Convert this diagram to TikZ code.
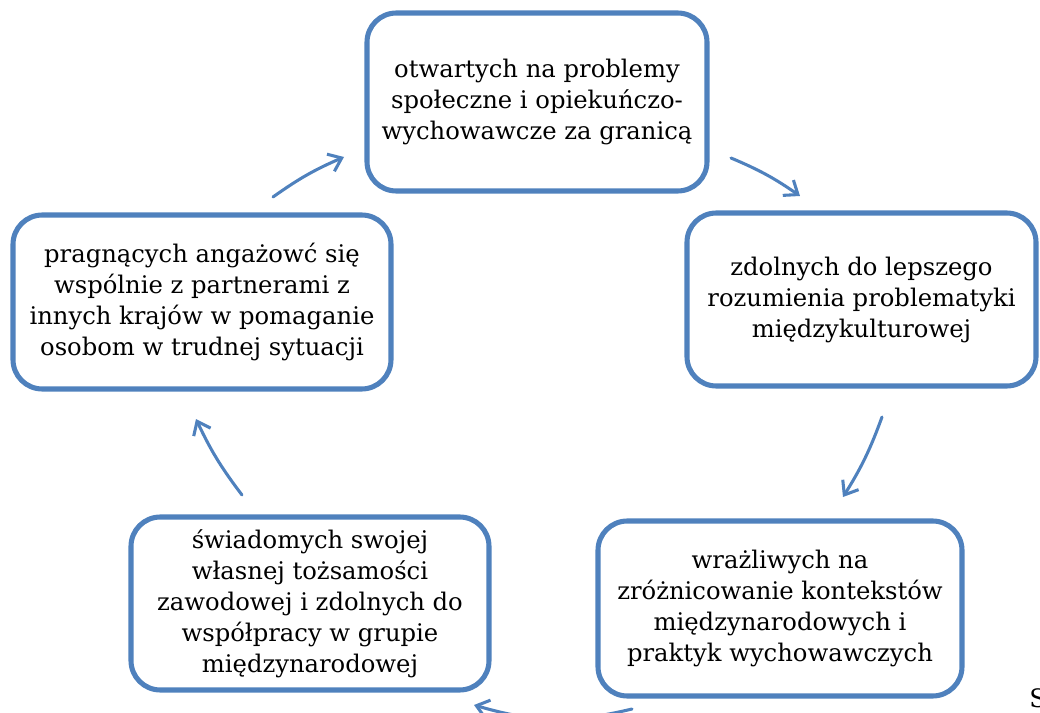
\documentclass[tikz,border=0pt]{standalone}
\usepackage{fontspec}
\setmainfont{DejaVu Serif}
\usetikzlibrary{arrows.meta,positioning}
\definecolor{cycleblue}{RGB}{79,129,189}

\begin{document}
\begin{tikzpicture}[x=0.75pt,y=-0.75pt,
        box/.style={draw=cycleblue, line width=3.8pt, rounded corners=22pt, align=center,
                    inner sep=0pt, font=\fontsize{18.2}{23.25}\selectfont},
        cyc/.style={draw=cycleblue, line width=2.3pt, line cap=round,
                    -{Straight Barb[length=9pt,width=14pt,line width=2.3pt]}}]
    \useasboundingbox (0,0) rectangle (1040,713);
    \clip (0,0) rectangle (1040,713);
    % the five boxes of the cycle
    \node[box, minimum width=255pt, minimum height=133.5pt] (open) at (537,102)
        {otwartych na problemy\\społeczne i opiekuńczo-\\wychowawcze za granicą};
    \node[box, minimum width=261.75pt, minimum height=129.75pt] (able) at (861.5,299.5)
        {zdolnych do lepszego\\rozumienia problematyki\\międzykulturowej};
    \node[box, minimum width=273pt, minimum height=131.25pt] (sens) at (780,608.5)
        {wrażliwych na\\zróżnicowanie kontekstów\\międzynarodowych i\\praktyk wychowawczych};
    \node[box, minimum width=268.5pt, minimum height=129.75pt] (aware) at (310,603.5)
        {świadomych swojej\\własnej tożsamości\\zawodowej i zdolnych do\\współpracy w grupie\\międzynarodowej};
    \node[box, minimum width=283.5pt, minimum height=130.5pt] (eager) at (202,302)
        {pragnących angażowć się\\wspólnie z partnerami z\\innych krajów w pomaganie\\osobom w trudnej sytuacji};
    \node[anchor=base west, inner sep=0pt, font=\fontsize{19}{23}\selectfont] (src) at (1029,707) {S};
    % arrow ends
    \coordinate (e1s) at (273,197); \coordinate (e1t) at (344,157);
    \coordinate (e2s) at (731,158); \coordinate (e2t) at (800,196);
    \coordinate (e3s) at (882,417); \coordinate (e3t) at (843,497);
    \coordinate (e4s) at (632,709); \coordinate (e4t) at (474,705);
    \coordinate (e5s) at (242,495); \coordinate (e5t) at (196,419);
    \draw[cyc] (e1s) to[bend left=6] (e1t);
    \draw[cyc] (e2s) to[bend left=6] (e2t);
    \draw[cyc] (e3s) to[bend left=6] (e3t);
    \draw[cyc] (e4s) to[bend left=15] (e4t);
    \draw[cyc] (e5s) to[bend left=6] (e5t);
\end{tikzpicture}
\end{document}
